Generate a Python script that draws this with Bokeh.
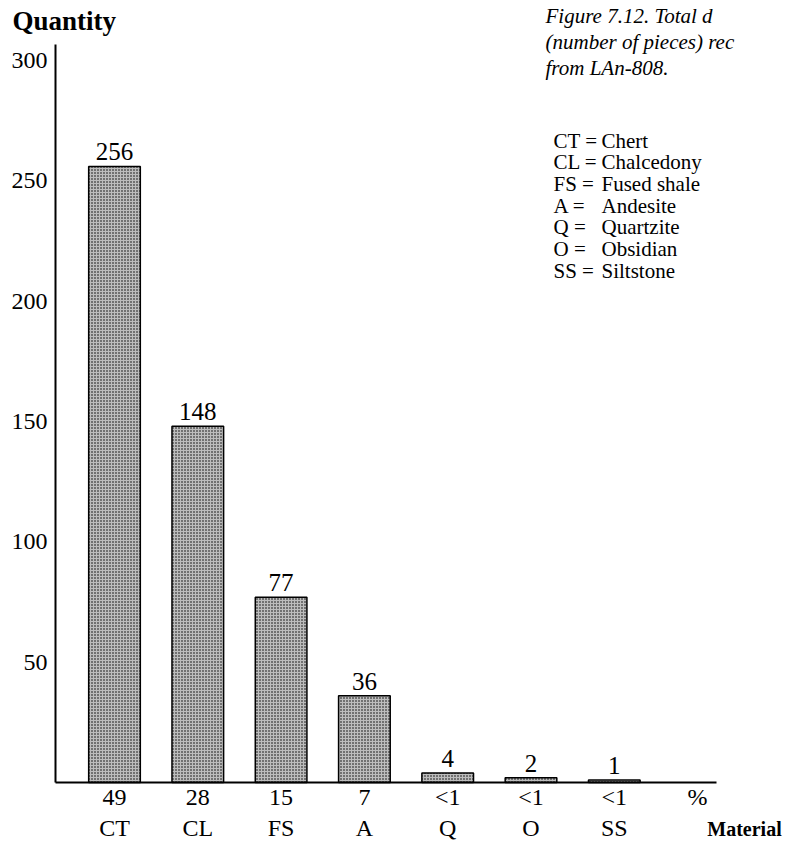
from bokeh.plotting import figure
from bokeh.models import (Range1d, LinearAxis, FixedTicker, Label, ColumnDataSource)
from bokeh.core.properties import value
from bokeh.embed import file_html
from bokeh.resources import INLINE

# ---- data ----
materials = ["CT", "CL", "FS", "A", "Q", "O", "SS"]
quantities = [256, 148, 77, 36, 4, 2, 1]
percents = ["49", "28", "15", "7", "<1", "<1", "<1"]
material_names = ["Chert", "Chalcedony", "Fused shale", "Andesite",
                  "Quartzite", "Obsidian", "Siltstone"]
y_ticks = [50, 100, 150, 200, 250, 300]
caption_lines = ["Figure 7.12.  Total d", "(number of pieces) rec", "from LAn-808."]

SERIF = "Liberation Serif"

# ---- layout constants (data-space geometry of the drawing area) ----
X_START, X_END = -1.3685, 8.0912    # horizontal extent of the drawing
Y_START, Y_END = -25.76, 324.93     # vertical extent of the drawing
Y_AXIS_AT = -0.708                  # where the quantity axis stands
X_LINE_END = 7.227                  # where the base line stops
Y_LINE_TOP = 306.6                  # where the quantity axis line stops

W, H = 788, 844

xs = list(range(len(materials)))
src = ColumnDataSource(dict(x=xs, top=quantities, lab=[str(q) for q in quantities]))

p = figure(width=W, height=H,
           x_range=Range1d(X_START, X_END), y_range=Range1d(Y_START, Y_END),
           output_backend="svg", toolbar_location=None,
           x_axis_type=None, y_axis_type=None,
           min_border=0, min_border_left=0, min_border_right=0,
           min_border_top=0, min_border_bottom=0)
p.outline_line_color = None
p.background_fill_color = "white"
p.border_fill_color = "white"

# quantity axis
ya = LinearAxis(ticker=FixedTicker(ticks=y_ticks), fixed_location=Y_AXIS_AT,
                bounds=(0, Y_LINE_TOP))
ya.major_tick_line_color = None
ya.minor_tick_line_color = None
ya.axis_line_width = 2
ya.axis_line_color = "black"
ya.major_label_standoff = 2
ya.major_label_text_font = SERIF
ya.major_label_text_font_size = "24px"
ya.major_label_text_color = "black"
p.add_layout(ya, "left")

# base line with percentages
pct_ticks = xs + [len(xs)]
xa1 = LinearAxis(ticker=FixedTicker(ticks=pct_ticks), fixed_location=0,
                 bounds=(Y_AXIS_AT, X_LINE_END),
                 major_label_overrides={i: t for i, t in enumerate(percents + ["%"])})
xa1.major_tick_line_color = None
xa1.minor_tick_line_color = None
xa1.axis_line_width = 2
xa1.axis_line_color = "black"
xa1.major_label_standoff = -5
xa1.major_label_text_font = SERIF
xa1.major_label_text_font_size = "24px"
xa1.major_label_text_color = "black"
p.add_layout(xa1, "below")

# material codes
xa2 = LinearAxis(ticker=FixedTicker(ticks=xs), fixed_location=0,
                 major_label_overrides={i: m for i, m in enumerate(materials)})
xa2.major_tick_line_color = None
xa2.minor_tick_line_color = None
xa2.axis_line_color = None
xa2.major_label_standoff = 26
xa2.major_label_text_font = SERIF
xa2.major_label_text_font_size = "24px"
xa2.major_label_text_color = "black"
p.add_layout(xa2, "below")

# bars
p.vbar(x="x", top="top", bottom=0, width=0.62, source=src,
       fill_color="#bdbdbd", hatch_pattern="dot", hatch_color="black",
       hatch_scale=3, hatch_weight=1.4,
       line_color="black", line_width=1.5)

# value labels
p.text(x="x", y="top", text="lab", source=src, text_align="center",
       text_baseline="bottom", y_offset=-6, text_font=value(SERIF),
       text_font_size="25px", text_color="black")

# titles / annotations (screen units from the drawing's bottom-left)
p.add_layout(Label(x=12, y=H - 20, x_units="screen", y_units="screen",
                   text="Quantity", text_font=SERIF, text_font_size="27px",
                   text_font_style="bold", text_baseline="middle",
                   text_color="black"))
p.add_layout(Label(x=744, y=H - 828, x_units="screen", y_units="screen",
                   text="Material", text_font=SERIF, text_font_size="20px",
                   text_font_style="bold", text_baseline="middle",
                   text_align="center", text_color="black"))

for i, line in enumerate(caption_lines):
    p.add_layout(Label(x=545, y=H - 15 - 26 * i, x_units="screen", y_units="screen",
                       text=line, text_font=SERIF, text_font_size="21px",
                       text_font_style="italic", text_baseline="middle",
                       text_color="black"))

for i, (code, name) in enumerate(zip(materials, material_names)):
    yy = H - 140 - 21.7 * i
    p.add_layout(Label(x=553, y=yy, x_units="screen", y_units="screen",
                       text=code + " =", text_font=SERIF, text_font_size="21px",
                       text_baseline="middle", text_color="black"))
    p.add_layout(Label(x=601, y=yy, x_units="screen", y_units="screen",
                       text=name, text_font=SERIF, text_font_size="21px",
                       text_baseline="middle", text_color="black"))

open("out.html", "w").write(file_html(p, INLINE))
